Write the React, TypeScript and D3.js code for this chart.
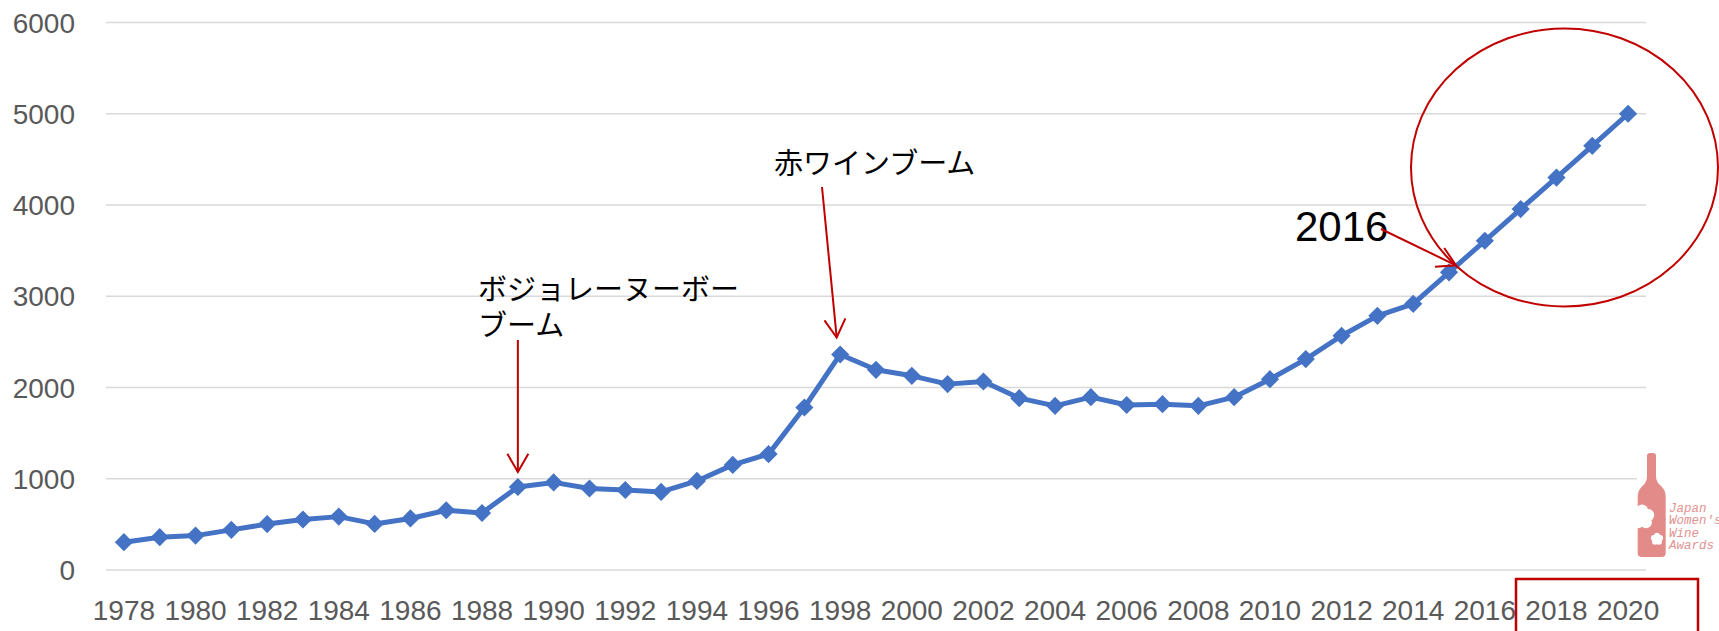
import { useEffect, useRef } from "react"
import * as d3 from "d3"

// wine consumption series
const years = [
  1978, 1979, 1980, 1981, 1982, 1983, 1984, 1985, 1986, 1987, 1988, 1989, 1990, 1991,
  1992, 1993, 1994, 1995, 1996, 1997, 1998, 1999, 2000, 2001, 2002, 2003, 2004, 2005,
  2006, 2007, 2008, 2009, 2010, 2011, 2012, 2013, 2014, 2015, 2016, 2017, 2018, 2019,
  2020,
]
const values = [
  305, 360, 377, 440, 503, 553, 585, 505, 565, 655, 625, 910, 960, 893,
  877, 856, 976, 1152, 1270, 1781, 2362, 2194, 2128, 2037, 2066, 1883, 1799, 1894,
  1808, 1817, 1799, 1894, 2091, 2311, 2567, 2785, 2917, 3262, 3608, 3955, 4300, 4648,
  5000,
]
const yTicks = [0, 1000, 2000, 3000, 4000, 5000, 6000]
const xTickLabels = [
  "1978", "1980", "1982", "1984", "1986", "1988", "1990", "1992", "1994", "1996", "1998",
  "2000", "2002", "2004", "2006", "2008", "2010", "2012", "2014", "2016", "2018", "2020",
]
const logoLines = ["Japan", "Women's", "Wine", "Awards"]

const RED = "#c00000"
const BLUE = "#4472c4"
const LATIN = "'Liberation Sans', Arial, sans-serif"
const JP = "'Noto Sans CJK JP', sans-serif"

type G = d3.Selection<SVGGElement, unknown, null, undefined>

// straight line with an open V head at (x2, y2)
function arrow(g: G, x1: number, y1: number, x2: number, y2: number) {
  g.append("line")
    .attr("x1", x1).attr("y1", y1).attr("x2", x2).attr("y2", y2)
    .attr("stroke", RED).attr("stroke-width", 2)
  const a = Math.atan2(y2 - y1, x2 - x1)
  const L = 21
  const s = Math.PI / 6
  g.append("path")
    .attr(
      "d",
      `M${x2 - L * Math.cos(a - s)},${y2 - L * Math.sin(a - s)}L${x2},${y2}L${x2 - L * Math.cos(a + s)},${y2 - L * Math.sin(a + s)}`
    )
    .attr("fill", "none")
    .attr("stroke", RED)
    .attr("stroke-width", 2)
}

function flower(g: G, cx: number, cy: number, r: number) {
  const f = g.append("g").attr("fill", "#fff")
  for (let i = 0; i < 5; i++) {
    const t = (i * 2 * Math.PI) / 5 - Math.PI / 2
    f.append("circle")
      .attr("cx", cx + r * 1.1 * Math.cos(t))
      .attr("cy", cy + r * 1.1 * Math.sin(t))
      .attr("r", r)
  }
  f.append("circle").attr("cx", cx).attr("cy", cy).attr("r", r)
}

export default function App() {
  const svgRef = useRef<SVGSVGElement>(null)

  useEffect(() => {
    if (!svgRef.current) return
    d3.select(svgRef.current).selectAll("*").remove()

    const W = 1719
    const H = 631
    const svg = d3.select(svgRef.current).attr("width", W).attr("height", H)
    const root: G = svg.append("g")

    const x = d3.scaleBand<number>().domain(years).range([106, 1646])
    const cx = (d: number) => (x(d) ?? 0) + x.bandwidth() / 2
    const y = d3.scaleLinear().domain([0, 6000]).range([570, 22.5])

    // gridlines
    root.append("g")
      .selectAll("line")
      .data(yTicks)
      .join("line")
      .attr("x1", 106)
      .attr("x2", 1646)
      .attr("y1", (d) => y(d))
      .attr("y2", (d) => y(d))
      .attr("stroke", "#d9d9d9")
      .attr("stroke-width", 1.5)

    // y labels
    root.append("g")
      .selectAll("text")
      .data(yTicks)
      .join("text")
      .attr("x", 75)
      .attr("y", (d) => y(d))
      .attr("dy", "0.36em")
      .attr("text-anchor", "end")
      .attr("font-family", LATIN)
      .attr("font-size", 28)
      .attr("fill", "#595959")
      .text((d) => String(d))

    // x labels (every other year)
    root.append("g")
      .selectAll("text")
      .data(xTickLabels)
      .join("text")
      .attr("x", (d) => cx(+d))
      .attr("y", 620)
      .attr("text-anchor", "middle")
      .attr("font-family", LATIN)
      .attr("font-size", 28)
      .attr("fill", "#595959")
      .text((d) => d)

    // line + diamond markers
    const line = d3
      .line<number>()
      .x((_, i) => cx(years[i]))
      .y((d) => y(d))
    root.append("path")
      .datum(values)
      .attr("d", line)
      .attr("fill", "none")
      .attr("stroke", BLUE)
      .attr("stroke-width", 5)
      .attr("stroke-linejoin", "round")

    const diamond = d3.symbol(d3.symbolSquare, 165)
    root.append("g")
      .selectAll("path")
      .data(values)
      .join("path")
      .attr("d", diamond)
      .attr("transform", (d, i) => `translate(${cx(years[i])},${y(d)}) rotate(45)`)
      .attr("fill", BLUE)

    // annotations
    const ann: G = root.append("g")
    ann.append("text")
      .attr("x", 478)
      .attr("y", 300)
      .attr("font-family", JP)
      .attr("font-size", 29)
      .attr("fill", "#000")
      .text("ボジョレーヌーボー")
    ann.append("text")
      .attr("x", 478)
      .attr("y", 336)
      .attr("font-family", JP)
      .attr("font-size", 29)
      .attr("fill", "#000")
      .text("ブーム")
    arrow(ann, cx(1989), 340, cx(1989), y(values[11]) - 15)

    ann.append("text")
      .attr("x", 774)
      .attr("y", 174)
      .attr("font-family", JP)
      .attr("font-size", 29)
      .attr("fill", "#000")
      .text("赤ワインブーム")
    arrow(ann, 822, 187, cx(1998) - 3.5, y(values[20]) - 17)

    ann.append("text")
      .attr("x", 1295)
      .attr("y", 241)
      .attr("font-family", LATIN)
      .attr("font-size", 42)
      .attr("fill", "#000")
      .text("2016")
    arrow(ann, 1381, 229, cx(2015) + 7, y(values[37]) - 7)

    ann.append("ellipse")
      .attr("cx", 1564.5)
      .attr("cy", 167.5)
      .attr("rx", 153.5)
      .attr("ry", 139)
      .attr("fill", "none")
      .attr("stroke", RED)
      .attr("stroke-width", 2)

    ann.append("rect")
      .attr("x", 1516)
      .attr("y", 579)
      .attr("width", 182)
      .attr("height", 80)
      .attr("fill", "none")
      .attr("stroke", RED)
      .attr("stroke-width", 2.5)

    // logo (bottle + text)
    const logo: G = root.append("g")
    logo.append("rect").attr("x", 1637).attr("y", 450).attr("width", 82).attr("height", 110).attr("fill", "#fff")
    logo.append("path")
      .attr(
        "d",
        "M1647,456Q1647,453 1650,453L1653,453Q1656,453 1656,456L1656,476Q1656,482 1661,486Q1665.7,490 1665.7,497L1665.7,553Q1665.7,557 1661.7,557L1641.7,557Q1637.7,557 1637.7,553L1637.7,497Q1637.7,490 1642.5,486Q1647,482 1647,476Z"
      )
      .attr("fill", "#e38b89")
    flower(logo, 1642, 517, 6)
    flower(logo, 1657, 539, 3)
    logo.append("g")
      .selectAll("text")
      .data(logoLines)
      .join("text")
      .attr("x", 1669)
      .attr("y", (_, i) => 511.5 + i * 12.5)
      .attr("font-family", "'Liberation Mono', monospace")
      .attr("font-style", "italic")
      .attr("font-size", 12.5)
      .attr("fill", "#e29291")
      .text((d) => d)
  }, [])

  return (
    <div style={{ position: "absolute", left: 0, top: 0 }}>
      <svg ref={svgRef}></svg>
    </div>
  )
}
